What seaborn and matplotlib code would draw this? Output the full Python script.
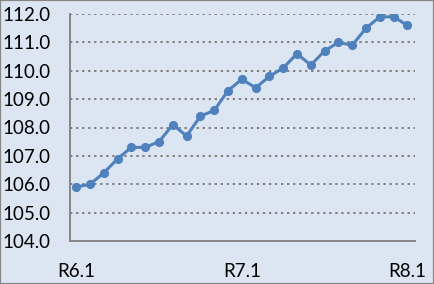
import matplotlib
matplotlib.use("Agg")
import matplotlib.pyplot as plt
import seaborn as sns
import pandas as pd
from matplotlib.patches import Rectangle

months = ["R6.1", "R6.2", "R6.3", "R6.4", "R6.5", "R6.6", "R6.7", "R6.8", "R6.9",
          "R6.10", "R6.11", "R6.12", "R7.1", "R7.2", "R7.3", "R7.4", "R7.5", "R7.6",
          "R7.7", "R7.8", "R7.9", "R7.10", "R7.11", "R7.12", "R8.1"]
values = [105.9, 106.0, 106.4, 106.9, 107.3, 107.3, 107.5, 108.1, 107.7, 108.4,
          108.6, 109.3, 109.7, 109.4, 109.8, 110.1, 110.6, 110.2, 110.7, 111.0,
          110.9, 111.5, 111.9, 111.9, 111.6]
shown_labels = ["R6.1", "R7.1", "R8.1"]
y_ticks = [104.0, 105.0, 106.0, 107.0, 108.0, 109.0, 110.0, 111.0, 112.0]

df = pd.DataFrame({"idx": list(range(len(months))), "month": months, "value": values})

sns.set_theme(style="white")
plt.rcParams['font.family'] = ['Lato', 'DejaVu Sans']

bg = "#DCE6F2"
fig = plt.figure(figsize=(4.34, 2.84), dpi=100, facecolor=bg)
ax = fig.add_axes([70/434, (284-241)/284, (415-70)/434, (241-14)/284])
ax.set_facecolor(bg)

sns.lineplot(data=df, x="idx", y="value", ax=ax, color="#4F81BD", linewidth=2.2,
             marker="o", markersize=6.6, markeredgewidth=0, zorder=3)

ax.set_ylim(104, 112)
ax.set_yticks(y_ticks)
ax.set_yticklabels([f"{v:.1f}" for v in y_ticks])
ax.set_xlim(-0.45, 24.55)
ax.set_xticks([months.index(m) for m in shown_labels])
ax.set_xticklabels(shown_labels)
ax.set_xlabel("")
ax.set_ylabel("")

for y in y_ticks[1:]:
    ax.axhline(y, color="#7F7F7F", linewidth=1.4, linestyle=(0, (1.2, 1.9)), zorder=1)

for s in ["top", "right"]:
    ax.spines[s].set_visible(False)
for s in ["left", "bottom"]:
    ax.spines[s].set_color("#868686")
    ax.spines[s].set_linewidth(1.4)

ax.tick_params(axis="y", length=0, pad=14, labelsize=13.5, colors="black")
ax.tick_params(axis="x", length=0, pad=16, labelsize=13.5, colors="black")

fig.patches.append(Rectangle((0, 0), 1, 1, transform=fig.transFigure, fill=False,
                             edgecolor="#868686", linewidth=1.6, zorder=10))

fig.savefig("out.png", dpi=100, facecolor=bg)
